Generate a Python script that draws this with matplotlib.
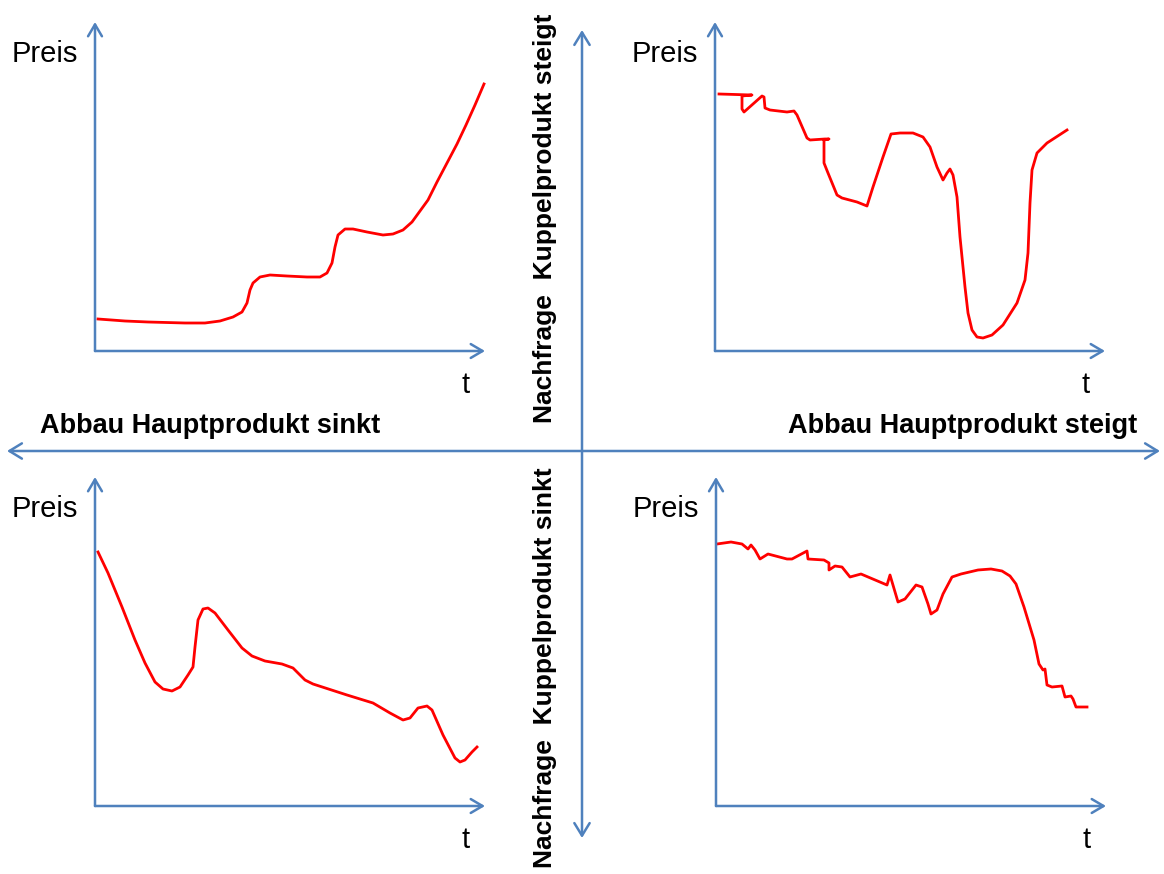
import matplotlib.pyplot as plt

plt.rcParams['font.family'] = ['Liberation Sans', 'DejaVu Sans']

# price curves, t in 0..390, Preis in 0..329 (arbitrary units along each small axis)
tl_t = [3, 30, 53, 90, 110, 125, 138, 147, 152, 155, 158, 165, 175, 192, 212, 225,
        232, 237, 240, 243, 250, 258, 272, 288, 298, 308, 317, 325, 333, 342, 352,
        362, 371, 380, 389]
tl_p = [32, 30, 29, 28, 28, 30, 34, 39, 48, 61, 68, 74, 76, 75, 74, 74,
        78, 88, 104, 116, 122, 122, 119, 116, 117, 121, 129, 140, 151, 169, 188,
        207, 226, 246, 267]

tr_t = [4, 37, 27, 27, 29, 47, 49, 50, 55, 72, 79, 82, 92, 95, 110, 114, 109, 109,
        113, 122, 127, 142, 152, 158, 168, 176, 185, 198, 208, 215, 222, 228, 232,
        235, 238, 242, 245, 250, 253, 257, 262, 268, 277, 288, 302, 310, 313, 315,
        317, 322, 332, 352]
tr_p = [257, 256, 255, 242, 239, 255, 254, 243, 241, 239, 240, 236, 213, 211, 212,
        212, 211, 188, 178, 156, 153, 149, 145, 164, 194, 217, 218, 218, 214, 204,
        184, 171, 178, 182, 176, 154, 114, 64, 38, 21, 14, 13, 16, 26, 48, 71, 98,
        148, 181, 198, 208, 221]

bl_t = [3, 13, 27, 40, 50, 60, 68, 77, 85, 93, 98, 100, 103, 108, 113, 120, 133,
        147, 157, 170, 187, 198, 210, 218, 252, 278, 295, 308, 315, 323, 332, 337,
        348, 360, 365, 370, 377, 382]
bl_p = [254, 233, 199, 166, 143, 124, 117, 115, 119, 131, 139, 159, 186, 197, 198,
        193, 176, 158, 150, 145, 142, 138, 126, 122, 111, 103, 93, 86, 88, 98, 100,
        96, 71, 48, 44, 46, 54, 59]

br_t = [1, 15, 26, 32, 35, 39, 44, 52, 71, 76, 91, 92, 108, 113, 113, 119, 126, 134,
        145, 171, 174, 182, 189, 200, 206, 212, 215, 221, 227, 236, 245, 262, 275,
        286, 294, 300, 308, 318, 323, 327, 329, 331, 336, 346, 349, 355, 357, 360,
        371]
br_p = [262, 264, 262, 257, 261, 256, 247, 252, 247, 247, 255, 247, 246, 243, 236,
        240, 239, 229, 232, 221, 231, 204, 207, 221, 219, 202, 192, 196, 212, 229,
        232, 236, 237, 235, 230, 222, 199, 166, 142, 136, 137, 121, 119, 120, 109,
        110, 107, 99, 99]

BLUE = "#4F81BD"
W, H = 1164, 874
fig = plt.figure(figsize=(W / 100, H / 100), dpi=100)

# overlay in pixel units for the big arrows and labels
bg = fig.add_axes([0, 0, 1, 1])
bg.set_xlim(0, W)
bg.set_ylim(H, 0)
bg.axis("off")

big = dict(arrowstyle="<->,head_length=0.9,head_width=0.55", color=BLUE, lw=1.8,
           shrinkA=0, shrinkB=0)
bg.annotate("", xy=(7, 451), xytext=(1160, 451), arrowprops=big)
bg.annotate("", xy=(582, 30), xytext=(582, 838), arrowprops=big)

bold = dict(fontsize=19.5, fontweight="bold", color="black")
bg.text(40, 433, "Abbau Hauptprodukt sinkt", ha="left", va="baseline", **bold)
bg.text(1137, 433, "Abbau Hauptprodukt steigt", ha="right", va="baseline", **bold)
bg.text(545, 218, "Nachfrage  Kuppelprodukt steigt", rotation=90,
        ha="center", va="center", fontsize=19, fontweight="bold")
bg.text(545, 668, "Nachfrage  Kuppelprodukt sinkt", rotation=90,
        ha="center", va="center", fontsize=19, fontweight="bold")

panels = [
    (95, 351, tl_t, tl_p),
    (715, 351, tr_t, tr_p),
    (95, 806, bl_t, bl_p),
    (716, 806, br_t, br_p),
]
ax_arrow = dict(arrowstyle="->,head_length=0.85,head_width=0.5", color=BLUE, lw=1.8,
                shrinkA=0, shrinkB=0)

for x0, y0, t, p in panels:
    ax = fig.add_axes([x0 / W, (H - y0) / H, 390 / W, 329 / H])
    ax.set_xlim(0, 390)
    ax.set_ylim(0, 329)
    ax.axis("off")
    ax.patch.set_alpha(0)
    ax.annotate("", xy=(390, 0), xytext=(0, 0), arrowprops=ax_arrow,
                annotation_clip=False)
    ax.annotate("", xy=(0, 329), xytext=(0, 0), arrowprops=ax_arrow,
                annotation_clip=False)
    ax.plot(t, p, color="red", lw=2, solid_joinstyle="round", clip_on=False)

    bg.text(x0 - 83, y0 - 289, "Preis", fontsize=21, ha="left", va="baseline")
    bg.text(x0 + 371, y0 + 42, "t", fontsize=21, ha="center", va="baseline")

fig.savefig("out.png", dpi=100)
